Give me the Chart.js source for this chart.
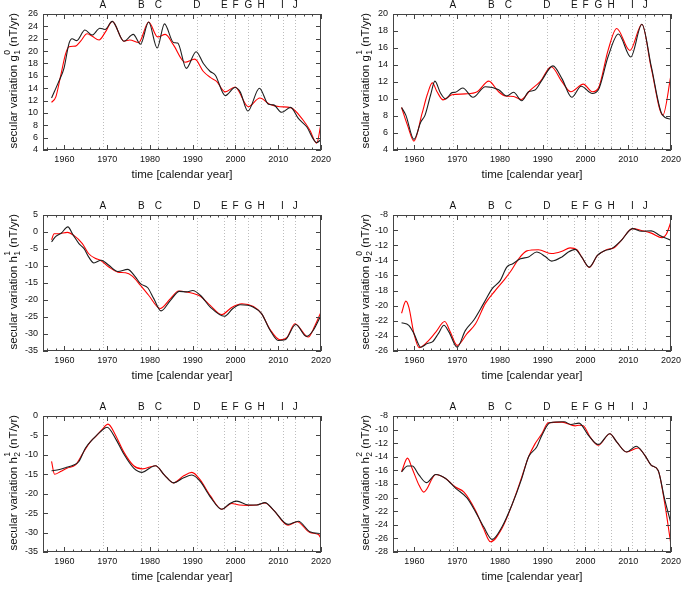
<!DOCTYPE html>
<html>
<head>
<meta charset="utf-8">
<script src="https://cdn.jsdelivr.net/npm/chart.js@4/dist/chart.umd.min.js"></script>
<style>
  body { margin: 0; background: #fff; }
  #wrap { position: relative; width: 685px; height: 596px; }
  canvas { position: absolute; }
</style>
</head>
<body>
<div id="wrap">
  <canvas id="c1" width="340" height="193" style="left:0;top:0"></canvas>
  <canvas id="c2" width="345" height="193" style="left:340px;top:0"></canvas>
  <canvas id="c3" width="340" height="193" style="left:0;top:201px"></canvas>
  <canvas id="c4" width="345" height="193" style="left:340px;top:201px"></canvas>
  <canvas id="c5" width="340" height="193" style="left:0;top:402px"></canvas>
  <canvas id="c6" width="345" height="193" style="left:340px;top:402px"></canvas>
</div>
<script>
// x axis + jerk markers
const xTicks = [1960, 1970, 1980, 1990, 2000, 2010, 2020];
const jerkLabels = ['A', 'B', 'C', 'D', 'E', 'F', 'G', 'H', 'I', 'J'];
const jerkYears = [1969, 1978, 1982, 1991, 1997.4, 2000, 2003, 2006, 2011, 2014];

// g1^0
const g10BlackT = [1957, 1958.7, 1959.9, 1961.1, 1961.8, 1962.9, 1964.8, 1966.5, 1968.3, 1969.5, 1971.2, 1973.9, 1976.1, 1977.8, 1979.7, 1981.7, 1983.4, 1985.5, 1986.5, 1988.5, 1990.8, 1992.5, 1994.1, 1995.3, 1997.6, 1999.9, 2001.1, 2002.9, 2005.6, 2007.7, 2008.9, 2010.8, 2012.9, 2014.7, 2016.6, 2019.0, 2020];
const g10Black = [12.4, 15.1, 17.2, 21.3, 22.0, 21.7, 23.4, 22.6, 23.7, 23.5, 24.8, 21.6, 22.7, 21.1, 24.7, 20.5, 24.4, 21.4, 21.3, 17.2, 19.9, 18.0, 16.7, 16.1, 12.8, 14.1, 13.4, 10.3, 14.0, 11.4, 11.3, 10.1, 10.9, 9.1, 7.8, 5.2, 5.7];
const g10RedT = [1957, 1958, 1959.1, 1960.3, 1961.1, 1962.6, 1963.8, 1965.3, 1966.5, 1968.1, 1969.6, 1971.2, 1973.9, 1975.3, 1977.4, 1979.7, 1981.8, 1983.6, 1985.5, 1988.2, 1990.5, 1992.5, 1994.2, 1995.6, 1997.6, 1999.9, 2003.0, 2005.7, 2008.0, 2010.4, 2012.9, 2015.8, 2017.4, 2019.0, 2020];
const g10Red = [11.7, 12.6, 15.9, 19.6, 20.7, 20.8, 21.6, 22.8, 22.4, 21.8, 23.1, 24.8, 21.6, 21.8, 21.4, 24.7, 22.3, 22.7, 21.0, 18.2, 18.7, 16.7, 15.7, 15.1, 13.4, 14.2, 11.0, 12.4, 11.4, 11.0, 10.85, 8.85, 7.2, 5.1, 8.3];

// g1^1
const g11BlackT = [1957, 1958, 1959.9, 1961.5, 1962.5, 1963.8, 1964.8, 1966.1, 1967.3, 1968.8, 1969.6, 1971.3, 1973.7, 1976.6, 1979.7, 1981.6, 1983.2, 1985.1, 1986.7, 1988.2, 1989.8, 1992.4, 1994.5, 1996.8, 1999.0, 2001.6, 2003.0, 2005.3, 2007.7, 2010.6, 2013.2, 2015.4, 2017.9, 2020];
const g11Black = [9.0, 8.1, 5.25, 7.3, 8.1, 10.5, 12.1, 10.7, 10.0, 10.75, 10.8, 11.3, 10.2, 11.45, 11.1, 10.35, 10.8, 9.8, 10.85, 11.05, 12.2, 13.9, 12.4, 10.2, 11.5, 10.65, 11.05, 15.0, 17.65, 14.95, 18.8, 13.8, 8.2, 7.6];
const g11RedT = [1957, 1958.4, 1959.9, 1961.8, 1963.0, 1964.2, 1965.3, 1966.7, 1968.8, 1971.9, 1974.7, 1977.4, 1979.7, 1981.3, 1983.2, 1985.0, 1987.1, 1989.4, 1992.0, 1994.5, 1996.6, 1999.5, 2001.6, 2003.0, 2005.3, 2007.3, 2010.4, 2013.2, 2015.4, 2018.1, 2020];
const g11Red = [9.0, 6.9, 5.05, 8.3, 10.5, 11.9, 10.85, 9.9, 10.5, 10.6, 10.85, 12.1, 10.85, 10.35, 10.3, 9.95, 11.05, 12.05, 13.8, 12.05, 10.85, 11.75, 10.85, 11.25, 15.75, 18.3, 15.7, 18.8, 13.6, 8.1, 12.8];

// h1^1
const h11BlackT = [1957, 1958, 1959.3, 1960.8, 1962.1, 1963.4, 1964.6, 1965.7, 1966.9, 1968.6, 1970.4, 1972.5, 1974.8, 1976.6, 1977.8, 1979.5, 1980.9, 1982.6, 1984.8, 1986.9, 1988.6, 1990.0, 1991.8, 1994.1, 1997.4, 1999.4, 2001.1, 2004.2, 2006.1, 2008.1, 2010.0, 2011.6, 2014.1, 2016.6, 2018.2, 2020];
const h11Black = [-2.9, -1.3, -0.3, 1.5, -1.0, -3.4, -4.9, -7.4, -9.1, -8.3, -9.8, -11.6, -11.0, -13.2, -15.2, -16.4, -19.6, -23.2, -20.1, -17.45, -17.6, -17.2, -18.6, -22.1, -24.8, -22.5, -21.4, -22.1, -24.0, -28.9, -31.9, -31.7, -27.2, -30.7, -28.9, -24.5];
const h11RedT = [1957, 1957.6, 1958.7, 1960.7, 1962.2, 1964.2, 1965.7, 1967.3, 1968.4, 1970.4, 1972.5, 1974.3, 1975.8, 1977.8, 1979.7, 1982.4, 1984.8, 1986.7, 1990.2, 1991.8, 1994.1, 1996.8, 1999.1, 2001.5, 2004.2, 2006.1, 2008.1, 2010.4, 2012.0, 2013.9, 2017.0, 2018.6, 2020];
const h11Red = [-2.3, -0.5, -0.5, -0.1, -1.0, -3.4, -6.4, -7.8, -8.3, -10.3, -11.8, -12.0, -12.9, -15.7, -18.6, -22.5, -19.6, -17.35, -18.1, -18.9, -21.6, -24.3, -22.2, -21.1, -21.9, -24.0, -28.7, -31.7, -31.1, -27.0, -30.9, -27.5, -23.5];

// g2^0
const g20BlackT = [1957, 1958.7, 1959.9, 1961.5, 1963.0, 1964.2, 1965.6, 1966.9, 1968.1, 1970.0, 1971.9, 1973.9, 1976.2, 1978.2, 1980.1, 1981.6, 1983.0, 1984.8, 1986.7, 1988.6, 1990.6, 1992.1, 1994.5, 1996.0, 1997.6, 1999.1, 2000.9, 2002.8, 2004.6, 2006.1, 2008.4, 2011.0, 2013.1, 2015.4, 2017.4, 2020];
const g20Black = [-22.25, -22.6, -23.7, -25.5, -25.0, -24.8, -23.7, -22.6, -23.5, -25.5, -23.3, -21.9, -19.7, -17.75, -16.65, -14.9, -14.45, -13.8, -13.55, -12.9, -13.5, -14.1, -13.55, -12.9, -12.55, -13.55, -14.9, -13.35, -12.7, -12.45, -11.35, -9.8, -10.15, -10.1, -10.7, -11.35];
const g20RedT = [1957, 1958, 1958.7, 1959.9, 1961.1, 1963.0, 1965.0, 1967.1, 1968.4, 1970.0, 1972.3, 1974.3, 1976.6, 1978.9, 1980.9, 1982.4, 1984.4, 1986.3, 1989.0, 1992.1, 1994.5, 1996.4, 1998.0, 1999.1, 2000.9, 2002.8, 2004.9, 2006.8, 2008.4, 2011.0, 2013.1, 2015.4, 2017.9, 2018.9, 2020];
const g20Red = [-21.0, -19.4, -20.2, -23.7, -25.55, -24.8, -23.5, -22.1, -23.5, -25.25, -23.7, -22.4, -19.7, -18.0, -16.65, -15.55, -13.8, -12.75, -12.6, -13.1, -12.8, -12.35, -12.6, -13.55, -14.95, -13.35, -12.6, -12.3, -11.35, -9.8, -10.05, -10.4, -11.0, -10.55, -8.9];

// h2^1
const h21BlackT = [1957, 1958.3, 1960.3, 1962.2, 1963.4, 1964.9, 1966.9, 1968.4, 1970.0, 1971.9, 1973.9, 1976.2, 1978.2, 1980.1, 1981.3, 1983.4, 1985.5, 1987.9, 1989.8, 1991.8, 1994.1, 1996.8, 1998.7, 2000.3, 2003.0, 2005.0, 2006.9, 2008.9, 2012.3, 2014.7, 2017.4, 2020];
const h21Black = [-14.1, -13.9, -13.3, -12.6, -11.7, -8.3, -5.7, -4.1, -2.9, -5.7, -9.8, -13.4, -14.5, -13.3, -12.8, -15.2, -17.2, -15.9, -15.2, -16.9, -20.8, -24.0, -22.5, -21.9, -22.9, -22.9, -22.3, -24.2, -27.9, -27.1, -29.8, -30.3];
const h21RedT = [1957, 1957.7, 1959.1, 1960.7, 1962.6, 1964.2, 1966.1, 1967.3, 1968.8, 1970.2, 1971.9, 1973.9, 1976.2, 1978.2, 1981.3, 1983.4, 1985.5, 1987.9, 1989.8, 1991.8, 1994.1, 1996.8, 1999.1, 2000.9, 2003.0, 2005.0, 2006.9, 2008.9, 2012.3, 2014.4, 2017.4, 2019.4, 2020];
const h21Red = [-11.7, -15.0, -14.3, -13.4, -12.6, -9.8, -6.6, -5.3, -3.5, -2.1, -4.8, -9.3, -12.8, -13.6, -12.8, -15.2, -17.2, -15.4, -14.5, -16.5, -20.5, -24.0, -22.5, -22.9, -23.0, -22.9, -22.4, -24.2, -28.1, -27.2, -30.0, -30.5, -31.5];

// h2^2
const h22BlackT = [1957, 1958.4, 1959.5, 1961.1, 1962.8, 1965.0, 1967.3, 1969.6, 1972.3, 1974.3, 1976.2, 1978.2, 1980.5, 1982.8, 1985.1, 1986.7, 1988.6, 1989.8, 1991.7, 1995.0, 1996.6, 1998.5, 2000.7, 2003.0, 2005.7, 2007.3, 2009.6, 2011.9, 2013.9, 2015.4, 2017.0, 2018.5, 2020];
const h22Black = [-16.2, -15.35, -15.35, -16.7, -17.8, -16.6, -17.2, -18.6, -20.05, -22.1, -24.3, -26.15, -24.3, -21.1, -17.2, -14.0, -12.55, -10.85, -9.0, -8.85, -9.25, -9.05, -10.85, -12.2, -10.6, -11.8, -13.3, -12.45, -13.8, -15.25, -16.0, -20.2, -23.8];
const h22RedT = [1957, 1958.4, 1959.5, 1961.1, 1962.2, 1965.0, 1967.3, 1969.6, 1971.6, 1974.3, 1976.2, 1977.8, 1980.5, 1982.8, 1985.1, 1986.7, 1988.2, 1989.8, 1991.3, 1994.5, 1997.6, 1998.5, 1999.5, 2001.1, 2003.0, 2005.7, 2007.3, 2009.6, 2012.3, 2013.9, 2015.4, 2017.0, 2018.5, 2020];
const h22Red = [-16.2, -14.2, -15.75, -18.2, -19.2, -16.6, -17.2, -18.45, -19.2, -21.9, -24.6, -26.5, -24.5, -21.1, -17.0, -14.0, -12.1, -10.6, -9.0, -8.9, -9.45, -9.35, -9.45, -11.1, -12.3, -10.6, -11.8, -13.3, -12.7, -13.8, -15.25, -16.0, -20.7, -27.0];

const FONT = 'Liberation Sans';
const pairs = (t, v) => t.map((x, i) => ({ x: x, y: v[i] }));

// frame, gnuplot-style inward ticks, jerk lines, letters and y label
const decor = {
    id: 'decor',
    beforeDatasetsDraw(chart) {
        const { ctx, chartArea: a, scales: { x } } = chart;
        ctx.save();
        ctx.strokeStyle = '#bdbdbd';
        ctx.lineWidth = 1;
        ctx.setLineDash([1, 2]);
        jerkYears.forEach(t => {
            const px = Math.round(x.getPixelForValue(t)) + 0.5;
            ctx.beginPath();
            ctx.moveTo(px, a.top);
            ctx.lineTo(px, a.bottom);
            ctx.stroke();
        });
        ctx.restore();
    },
    afterDraw(chart, args, opts) {
        const { ctx, chartArea: a, scales: { x, y } } = chart;
        ctx.save();
        ctx.strokeStyle = '#444';
        ctx.lineWidth = 1;
        ctx.strokeRect(a.left + 0.5, a.top + 0.5, a.right - a.left - 1, a.bottom - a.top - 1);

        ctx.beginPath();
        // minor x ticks every 2 yr, major every 10
        for (let t = Math.ceil(x.min / 2) * 2; t <= x.max; t += 2) {
            const px = Math.round(x.getPixelForValue(t)) + 0.5;
            const len = t % 10 === 0 ? 5 : 2.5;
            ctx.moveTo(px, a.bottom); ctx.lineTo(px, a.bottom - len);
            ctx.moveTo(px, a.top); ctx.lineTo(px, a.top + len);
        }
        y.ticks.forEach(tk => {
            const py = Math.round(y.getPixelForValue(tk.value)) + 0.5;
            ctx.moveTo(a.left, py); ctx.lineTo(a.left + 5, py);
            ctx.moveTo(a.right, py); ctx.lineTo(a.right - 5, py);
        });
        ctx.stroke();

        // jerk letters
        ctx.fillStyle = '#111';
        ctx.font = '10px "' + FONT + '"';
        ctx.textAlign = 'center';
        ctx.textBaseline = 'middle';
        jerkYears.forEach((t, i) => {
            ctx.fillText(jerkLabels[i], x.getPixelForValue(t), a.top - 9);
        });

        // y title with stacked sub/superscript
        const big = '11.5px "' + FONT + '"';
        const small = '8.5px "' + FONT + '"';
        const pre = 'secular variation ' + opts.sym;
        const post = ' (nT/yr)';
        ctx.font = big;
        const w1 = ctx.measureText(pre).width;
        const w3 = ctx.measureText(post).width;
        ctx.font = small;
        const w2 = Math.max(ctx.measureText(opts.sub).width, ctx.measureText(opts.sup).width);
        ctx.translate(opts.titleX, (a.top + a.bottom) / 2 - 1);
        ctx.rotate(-Math.PI / 2);
        ctx.textAlign = 'left';
        ctx.textBaseline = 'alphabetic';
        let xs = -(w1 + w2 + w3) / 2;
        ctx.font = big;
        ctx.fillText(pre, xs, 4);
        ctx.font = small;
        ctx.fillText(opts.sub, xs + w1 + 0.5, 7.5);
        ctx.fillText(opts.sup, xs + w1 + 0.5, -2.5);
        ctx.font = big;
        ctx.fillText(post, xs + w1 + w2 + 0.5, 4);
        ctx.restore();
    }
};

function makeChart(id, p) {
    new Chart(document.getElementById(id), {
        type: 'line',
        data: {
            datasets: [
                { data: pairs(p.bt, p.bv), borderColor: '#1e1e1e', borderWidth: 1.1 },
                { data: pairs(p.rt, p.rv), borderColor: '#ff0000', borderWidth: 1.1 }
            ]
        },
        options: {
            responsive: false,
            animation: false,
            events: [],
            layout: { padding: { top: 14, right: p.right, left: 0, bottom: 0 } },
            elements: {
                point: { radius: 0 },
                line: { cubicInterpolationMode: 'monotone', fill: false }
            },
            plugins: {
                legend: { display: false },
                tooltip: { enabled: false },
                decor: { sym: p.sym, sub: p.sub, sup: p.sup, titleX: p.titleX }
            },
            scales: {
                x: {
                    type: 'linear',
                    min: 1955,
                    max: 2020,
                    grid: { display: false, drawTicks: false },
                    border: { display: false },
                    afterBuildTicks: s => { s.ticks = xTicks.map(v => ({ value: v })); },
                    afterFit: s => { s.height = 43; },
                    ticks: {
                        autoSkip: false, maxRotation: 0, padding: 4, color: '#111',
                        font: { family: FONT, size: 9 },
                        callback: v => String(v)
                    },
                    title: {
                        display: true, text: 'time [calendar year]', color: '#111',
                        font: { family: FONT, size: 11.5 },
                        padding: { top: 0, bottom: 11.5 }
                    }
                },
                y: {
                    min: p.ymin,
                    max: p.ymax,
                    grid: { display: false, drawTicks: false },
                    border: { display: false },
                    afterFit: s => { s.width = p.yw; },
                    ticks: {
                        stepSize: p.step, autoSkip: false, padding: 5, color: '#111',
                        font: { family: FONT, size: 9 }
                    }
                }
            }
        },
        plugins: [decor]
    });
}

const leftCol = { yw: 43, right: 19, titleX: 12.8 };
const rightCol = { yw: 53, right: 12, titleX: 24.7 };

makeChart('c1', Object.assign({ bt: g10BlackT, bv: g10Black, rt: g10RedT, rv: g10Red, ymin: 4, ymax: 26, step: 2, sym: 'g', sub: '1', sup: '0' }, leftCol));
makeChart('c2', Object.assign({ bt: g11BlackT, bv: g11Black, rt: g11RedT, rv: g11Red, ymin: 4, ymax: 20, step: 2, sym: 'g', sub: '1', sup: '1' }, rightCol));
makeChart('c3', Object.assign({ bt: h11BlackT, bv: h11Black, rt: h11RedT, rv: h11Red, ymin: -35, ymax: 5, step: 5, sym: 'h', sub: '1', sup: '1' }, leftCol));
makeChart('c4', Object.assign({ bt: g20BlackT, bv: g20Black, rt: g20RedT, rv: g20Red, ymin: -26, ymax: -8, step: 2, sym: 'g', sub: '2', sup: '0' }, rightCol));
makeChart('c5', Object.assign({ bt: h21BlackT, bv: h21Black, rt: h21RedT, rv: h21Red, ymin: -35, ymax: 0, step: 5, sym: 'h', sub: '2', sup: '1' }, leftCol));
makeChart('c6', Object.assign({ bt: h22BlackT, bv: h22Black, rt: h22RedT, rv: h22Red, ymin: -28, ymax: -8, step: 2, sym: 'h', sub: '2', sup: '2' }, rightCol));
</script>
</body>
</html>
